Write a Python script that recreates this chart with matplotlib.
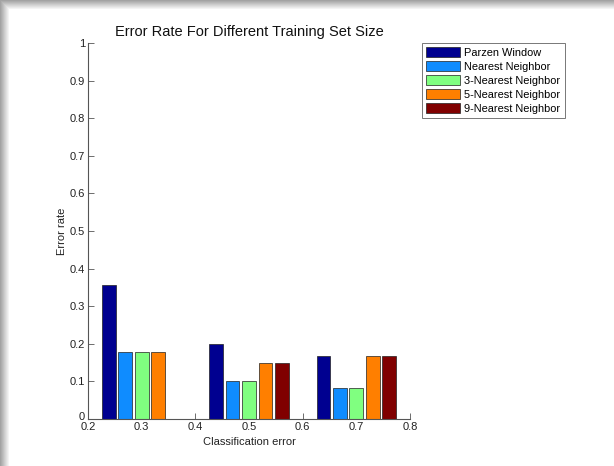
import numpy as np
import matplotlib
matplotlib.use("Agg")
import matplotlib.pyplot as plt
import matplotlib.transforms as mtransforms

plt.rcParams['font.family'] = ['Liberation Sans', 'DejaVu Sans']

# Grouped error rates
group_centers = [0.3, 0.5, 0.7]
series_names = ["Parzen Window", "Nearest Neighbor", "3-Nearest Neighbor",
                "5-Nearest Neighbor", "9-Nearest Neighbor"]
parzen = [0.357, 0.200, 0.167]
nearest = [0.179, 0.100, 0.083]
nn3 = [0.179, 0.100, 0.083]
nn5 = [0.179, 0.150, 0.167]
nn9 = [0.0, 0.150, 0.167]
series_values = [parzen, nearest, nn3, nn5, nn9]
colors = ["#000090", "#0f8cff", "#80ff80", "#ff7f00", "#800000"]

xticks = [0.2, 0.3, 0.4, 0.5, 0.6, 0.7, 0.8]
yticks = [0, 0.1, 0.2, 0.3, 0.4, 0.5, 0.6, 0.7, 0.8, 0.9, 1]

W, H = 614, 466
fig = plt.figure(figsize=(W / 100, H / 100), dpi=100)

# soft shadow along the top and left edges of the page
bg = fig.add_axes([0, 0, 1, 1])
yy, xx = np.mgrid[0:H, 0:W]
top = np.clip(1 - yy / 9.0, 0, 1)
left = np.clip(1 - xx / 9.0, 0, 1)
dark = np.maximum(top, left) * 0.36
img = np.dstack([1 - dark] * 3)
bg.imshow(img, aspect='auto', extent=[0, 1, 0, 1], origin='upper')
bg.set_xlim(0, 1)
bg.set_ylim(0, 1)
bg.axis('off')

ax = fig.add_axes([88 / W, 1 - 419 / H, (410 - 88) / W, (419 - 43) / H])
ax.set_facecolor('white')

step = 0.0305
width = 0.0255
for i, (name, vals, c) in enumerate(zip(series_names, series_values, colors)):
    xs = [g + (i - 2) * step for g in group_centers]
    ax.bar(xs, vals, width=width, color=c, edgecolor='#202020',
           linewidth=0.5, label=name, zorder=2)

ax.set_xlim(0.2, 0.8)
ax.set_ylim(0, 1)
ax.set_xticks(xticks)
ax.set_xticklabels([f"{t:g}" for t in xticks])
ax.set_yticks(yticks)
ax.set_yticklabels([f"{t:g}" for t in yticks])
for s in ['top', 'right']:
    ax.spines[s].set_visible(False)
for s in ['left', 'bottom']:
    ax.spines[s].set_color('#555555')
    ax.spines[s].set_linewidth(0.8)
ax.tick_params(direction='in', length=4, width=0.6, color='#555555',
               labelsize=8, labelcolor='#222222', pad=2)

# lift the bottom y label a little so it sits above the first x label
zero_lbl = ax.get_yticklabels()[0]
zero_lbl.set_transform(zero_lbl.get_transform() +
                       mtransforms.ScaledTranslation(0, 2 / 72, fig.dpi_scale_trans))

ax.set_title("Error Rate For Different Training Set Size", fontsize=10.5,
             color='#111111', pad=5)
ax.set_xlabel("Classification error", fontsize=8, color='#222222', labelpad=4)
ax.set_ylabel("Error rate", fontsize=8, color='#222222', labelpad=2)

leg = fig.legend(loc='upper left', bbox_to_anchor=(422 / W, 1 - 43 / H),
                 fontsize=7.9, frameon=True, fancybox=False,
                 handlelength=3.1, handleheight=1.0, handletextpad=0.35,
                 labelspacing=0.3, borderpad=0.4, borderaxespad=0)
leg.get_frame().set_edgecolor('#555555')
leg.get_frame().set_linewidth(0.7)

fig.savefig("out.png", dpi=100)
